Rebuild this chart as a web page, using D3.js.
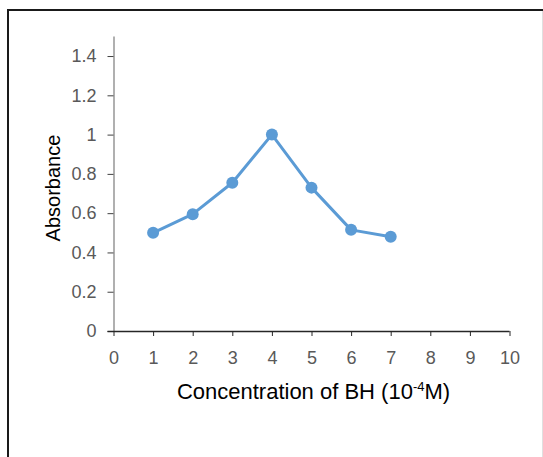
<!DOCTYPE html>
<meta charset="utf-8">
<head>
    <title>Absorbance vs concentration</title>
    <script src="https://cdn.jsdelivr.net/npm/d3@7"></script>
</head>

<style>
    body { margin: 0; background: #fff; }
</style>

<svg></svg>

<script>
    // data
    var concentration = [1, 2, 3, 4, 5, 6, 7];
    var absorbance = [0.50, 0.595, 0.755, 1.0, 0.73, 0.515, 0.48];
    var yTicks = [0, 0.2, 0.4, 0.6, 0.8, 1, 1.2, 1.4];
    var xTicks = [0, 1, 2, 3, 4, 5, 6, 7, 8, 9, 10];

    var vWidth = 543, vHeight = 457;
    var font = '"Liberation Sans", Arial, sans-serif';
    var svg = d3.select('svg').attr('width', vWidth).attr('height', vHeight);

    // outer frame (runs off the right and bottom)
    svg.append('rect')
        .attr('x', 8).attr('y', 10)
        .attr('width', 560).attr('height', 500)
        .attr('fill', 'none').attr('stroke', '#1a1a1a').attr('stroke-width', 2);
    svg.append('line')
        .attr('x1', 542.5).attr('x2', 542.5).attr('y1', 11).attr('y2', vHeight)
        .attr('stroke', '#e0e0e0');

    var x = d3.scaleLinear().domain([0, 10]).range([113.5, 509.5]);
    var y = d3.scaleLinear().domain([0, 1.5]).range([331, 36.4]);

    var yAxis = svg.append('g')
        .attr('transform', 'translate(' + x(0) + ',0)')
        .call(d3.axisLeft(y).tickValues(yTicks).tickSize(6).tickPadding(11)
            .tickFormat(function (d) { return d3.format('')(+d.toFixed(1)); }));
    yAxis.selectAll('.domain').attr('stroke', '#868686').attr('stroke-width', 1.3)
        .attr('d', 'M0.5,' + y(1.5) + 'V' + y(0));
    yAxis.selectAll('.tick line').attr('stroke', '#404040');

    var xAxis = svg.append('g')
        .attr('transform', 'translate(0,' + y(0) + ')')
        .call(d3.axisBottom(x).tickValues(xTicks).tickSize(5).tickPadding(15));
    xAxis.selectAll('.domain').attr('stroke', '#262626').attr('stroke-width', 1.3)
        .attr('d', 'M' + (x(0) - 6) + ',0.5H' + x(10));
    xAxis.selectAll('.tick line').attr('stroke', '#262626');

    svg.selectAll('.tick text')
        .attr('font-family', font).attr('font-size', 18).attr('fill', '#595959');

    // axis titles
    var xt = svg.append('text')
        .attr('font-family', font).attr('font-size', 22).attr('fill', '#000')
        .attr('x', x(5) + 2).attr('y', 399)
        .attr('text-anchor', 'middle');
    xt.append('tspan').text('Concentration of BH (10');
    xt.append('tspan').text('-4').attr('font-size', 13).attr('dy', -8);
    xt.append('tspan').text('M)').attr('dy', 8);

    svg.append('text')
        .attr('font-family', font).attr('font-size', 20).attr('fill', '#000')
        .attr('transform', 'translate(60,188) rotate(-90)')
        .attr('text-anchor', 'middle')
        .text('Absorbance');

    var pts = concentration.map(function (c, i) { return [c, absorbance[i]]; });

    svg.append('path')
        .datum(pts)
        .attr('fill', 'none')
        .attr('stroke', '#5B9BD5')
        .attr('stroke-width', 3)
        .attr('stroke-linejoin', 'round')
        .attr('d', d3.line().x(function (d) { return x(d[0]); }).y(function (d) { return y(d[1]); }));

    svg.selectAll('circle.pt').data(pts).enter().append('circle')
        .attr('class', 'pt')
        .attr('cx', function (d) { return x(d[0]); })
        .attr('cy', function (d) { return y(d[1]); })
        .attr('r', 6)
        .attr('fill', '#5B9BD5');
</script>
